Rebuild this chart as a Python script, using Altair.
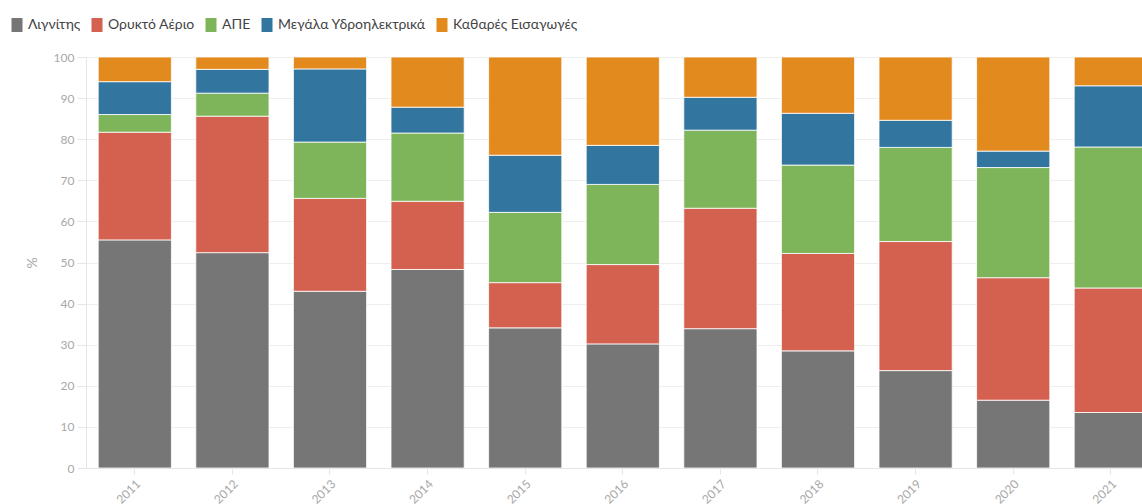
import altair as alt
import pandas as pd

years = ["2011", "2012", "2013", "2014", "2015", "2016", "2017", "2018", "2019", "2020", "2021"]
series = ["Λιγνίτης", "Ορυκτό Αέριο", "ΑΠΕ", "Μεγάλα Υδροηλεκτρικά", "Καθαρές Εισαγωγές"]
colors = ["#767676", "#d4604f", "#7fb55a", "#32769f", "#e38a1f"]

lignite = [55.5, 52.4, 43.0, 48.3, 34.1, 30.2, 33.9, 28.5, 23.7, 16.5, 13.5]
gas     = [26.2, 33.2, 22.6, 16.6, 11.0, 19.3, 29.3, 23.7, 31.4, 29.8, 30.3]
res     = [4.3, 5.6, 13.7, 16.6, 17.1, 19.5, 19.0, 21.5, 22.9, 26.8, 34.3]
hydro   = [8.0, 5.8, 17.8, 6.3, 13.9, 9.5, 8.0, 12.6, 6.6, 4.0, 14.9]
imports = [6.0, 3.0, 2.9, 12.2, 23.9, 21.5, 9.8, 13.7, 15.4, 22.9, 7.0]

values = [lignite, gas, res, hydro, imports]
rows = []
for i, (name, vals) in enumerate(zip(series, values)):
    for y, v in zip(years, vals):
        rows.append({"year": y, "series": name, "value": v, "order": i})
df = pd.DataFrame(rows)

FONT = "Lato"
AXIS_GRAY = "#a8a8a8"

chart = alt.Chart(df).mark_bar(
    stroke="white", strokeWidth=1, strokeOpacity=0.8, clip=True
).encode(
    x=alt.X("year:N", sort=years,
            scale=alt.Scale(paddingInner=0.25, paddingOuter=0.125, range=[0, 1073.6]),
            axis=alt.Axis(title=None, labelAngle=-45, labelFontSize=12, labelColor=AXIS_GRAY,
                          labelFont=FONT, tickColor="#e6e6e6", tickSize=6, domainColor="#e6e6e6",
                          labelPadding=4, grid=False)),
    y=alt.Y("value:Q", stack="zero",
            scale=alt.Scale(domain=[0, 100], nice=False),
            axis=alt.Axis(title="%", values=list(range(0, 101, 10)), labelFontSize=12,
                          labelColor=AXIS_GRAY, labelFont=FONT, titleFont=FONT, titleFontSize=14,
                          titleFontWeight="normal", titleColor=AXIS_GRAY, titlePadding=14,
                          tickColor="#e6e6e6", tickSize=9, domainColor="#e6e6e6",
                          gridColor="#eeeeee", labelPadding=3)),
    color=alt.Color("series:N", sort=series,
                    scale=alt.Scale(domain=series, range=colors),
                    legend=alt.Legend(title=None, orient="none", direction="horizontal",
                                      legendX=-76, legendY=-39, labelFont=FONT, labelFontSize=14,
                                      labelColor="#444444",
                                      symbolType="M-0.786,-1H0.786V1H-0.786Z", symbolSize=196,
                                      symbolStrokeWidth=0, symbolOpacity=1, columnPadding=9,
                                      labelOffset=4)),
    order=alt.Order("order:Q", sort="ascending"),
).properties(
    width=1056, height=411,
    autosize=alt.AutoSizeParams(type="none"),
    padding={"left": 86, "top": 57, "right": 0, "bottom": 36},
).configure_view(stroke=None)

chart.save("out.html", embed_options={"renderer": "svg", "actions": False})
